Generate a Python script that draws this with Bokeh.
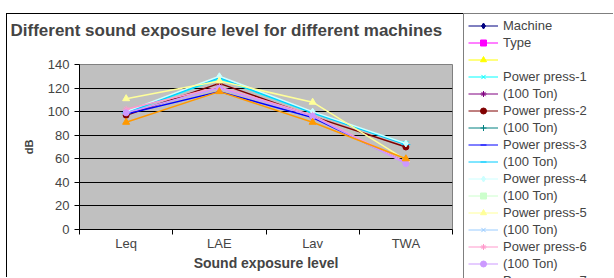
from math import nan
from bokeh.plotting import figure
from bokeh.layouts import row, column
from bokeh.models import (Range1d, LinearAxis, FixedTicker, Spacer, Title,
                          Legend, LegendItem, ColumnDataSource)
from bokeh.core.properties import value
from bokeh.embed import file_html
from bokeh.resources import INLINE

# ---------------- data ----------------
categories = ["Leq", "LAE", "Lav", "TWA"]
y_ticks = [0, 20, 40, 60, 80, 100, 120, 140]
chart_title = "Different sound exposure level for different machines"

series_names = ["Machine", "Type", "", "Power press-1", "(100 Ton)",
                "Power press-2", "(100 Ton)", "Power press-3", "(100 Ton)",
                "Power press-4", "(100 Ton)", "Power press-5", "(100 Ton)",
                "Power press-6", "(100 Ton)", "Power press-7", "(100 Ton)",
                "Power press-8", "(100 Ton)", "Power press-9", "(100 Ton)"]

no_data = [nan, nan, nan, nan]
pp1 = [99, 128, 99, 73]
pp2 = [97, 124, 96, 70]
pp3 = [98, 117, 95, 57]
pp3_ton = [99, 129, 99, 72]
pp4 = [100, 130, 100, 73]
pp5 = [111, 126, 108, 59]
pp6 = [102, 121, 97, 57]
pp6_ton = [99, 120, 96, 56]
pp9_ton = [91, 117, 91, 60]

series_values = [no_data, no_data, no_data, pp1, no_data, pp2, no_data, pp3,
                 pp3_ton, pp4, no_data, pp5, no_data, pp6, pp6_ton, no_data,
                 no_data, no_data, no_data, no_data, pp9_ton]

# ---------------- styles ----------------
colors = ["#000080", "#FF00FF", "#FFFF00", "#00FFFF", "#800080", "#800000",
          "#008080", "#0000FF", "#00CCFF", "#CCFFFF", "#CCFFCC", "#FFFF99",
          "#99CCFF", "#FF99CC", "#CC99FF", "#FFCC99", "#3366FF", "#33CCCC",
          "#99CC00", "#FFCC00", "#FF9900"]
marker_cycle = ["diamond", "square", "triangle", "x", "asterisk", "circle",
                "cross", "dash", "dash"]
marker_sizes = [7, 6, 7, 7, 7, 6, 7, 5, 9]

FONT = "Liberation Sans"
W1, H1 = 457, 264
W2, H2 = 150, 265
B_LEFT, B_RIGHT, B_TOP, B_BOTTOM = 72, 12, 50, 49

p = figure(width=W1, height=H1, x_range=categories,
           y_range=Range1d(y_ticks[0], y_ticks[-1]),
           x_axis_location=None, output_backend="svg", toolbar_location=None,
           min_border_left=B_LEFT, min_border_right=B_RIGHT,
           min_border_top=B_TOP, min_border_bottom=B_BOTTOM,
           background_fill_color="#C0C0C0", border_fill_color="white",
           outline_line_color="#808080",
           styles={"border-left": "1px solid black",
                   "border-top": "1px solid black"})
p.frame_align = False
p.xgrid.visible = False

# spacer title (nearest the frame) pushes the real title upwards
p.add_layout(Title(text=" ", text_font=FONT, text_font_size="17px",
                   text_font_style="bold", standoff=4), "above")
p.add_layout(Title(text=chart_title, align="left", offset=-69, standoff=0,
                   text_font=FONT, text_font_size="17px",
                   text_font_style="bold"), "above")

# y axis
yax = p.yaxis[0]
yax.ticker = FixedTicker(ticks=y_ticks)
yax.axis_label = "dB"
yax.axis_label_text_font = FONT
yax.axis_label_text_font_size = "11px"
yax.axis_label_text_font_style = "bold"
yax.axis_label_standoff = 10
yax.major_label_text_font = FONT
yax.major_label_text_font_size = "13px"
yax.major_label_standoff = 5
yax.major_tick_in = 0
yax.major_tick_out = 5
yax.minor_tick_line_color = None
yax.axis_line_color = "black"
yax.major_tick_line_color = "black"

p.ygrid.ticker = FixedTicker(ticks=y_ticks[1:-1])
p.ygrid.grid_line_color = "black"

# bottom axis: labels at category centres, tick marks at category boundaries
centres = [i + 0.5 for i in range(len(categories))]
bounds = list(range(len(categories) + 1))
xax = LinearAxis(ticker=FixedTicker(ticks=centres, minor_ticks=bounds),
                 major_label_overrides={c: lab for c, lab in zip(centres, categories)},
                 major_tick_line_color=None, major_tick_in=0, major_tick_out=3,
                 minor_tick_line_color="black", minor_tick_in=0, minor_tick_out=5,
                 axis_line_color="black",
                 major_label_standoff=1,
                 major_label_text_font=FONT,
                 major_label_text_font_size="13px",
                 axis_label="Sound exposure level",
                 axis_label_text_font=FONT,
                 axis_label_text_font_size="14px",
                 axis_label_text_font_style="bold",
                 axis_label_standoff=1)
p.add_layout(xax, "below")

# legend figure (holds only the legend; its data lie outside its view)
p2 = figure(width=W2, height=H2, x_range=categories, y_range=Range1d(1000, 1001),
            x_axis_location=None, y_axis_location=None,
            output_backend="svg", toolbar_location=None,
            min_border=0, outline_line_color=None,
            background_fill_color="white", border_fill_color="white")
p2.frame_align = False
p2.xgrid.visible = False
p2.ygrid.visible = False

# series
items = []
for i, (name, vals) in enumerate(zip(series_names, series_values)):
    col = colors[i]
    mk = marker_cycle[i % len(marker_cycle)]
    ms = marker_sizes[i % len(marker_sizes)]
    src = ColumnDataSource(data=dict(x=categories, y=vals))
    p.line("x", "y", source=src, line_color=col, line_width=1.5)
    p.scatter("x", "y", source=src, marker=mk, size=ms,
              fill_color=col, line_color=col)
    lr = p2.line("x", "y", source=src, line_color=col, line_width=1)
    sr = p2.scatter("x", "y", source=src, marker=mk, size=ms,
                    fill_color=col, line_color=col)
    items.append(LegendItem(label=value(name), renderers=[lr, sr]))

legend = Legend(items=items, location="top_left",
                padding=4, spacing=2, margin=0,
                glyph_width=30, glyph_height=15, label_height=15,
                label_width=200, label_standoff=5,
                label_text_font=FONT, label_text_font_size="13px",
                border_line_color="black", border_line_width=1,
                background_fill_color="white", background_fill_alpha=1)
p2.add_layout(legend, "center")

layout = column(Spacer(height=13),
                row(Spacer(width=6), p, p2))
open("out.html", "w").write(file_html(layout, INLINE))
